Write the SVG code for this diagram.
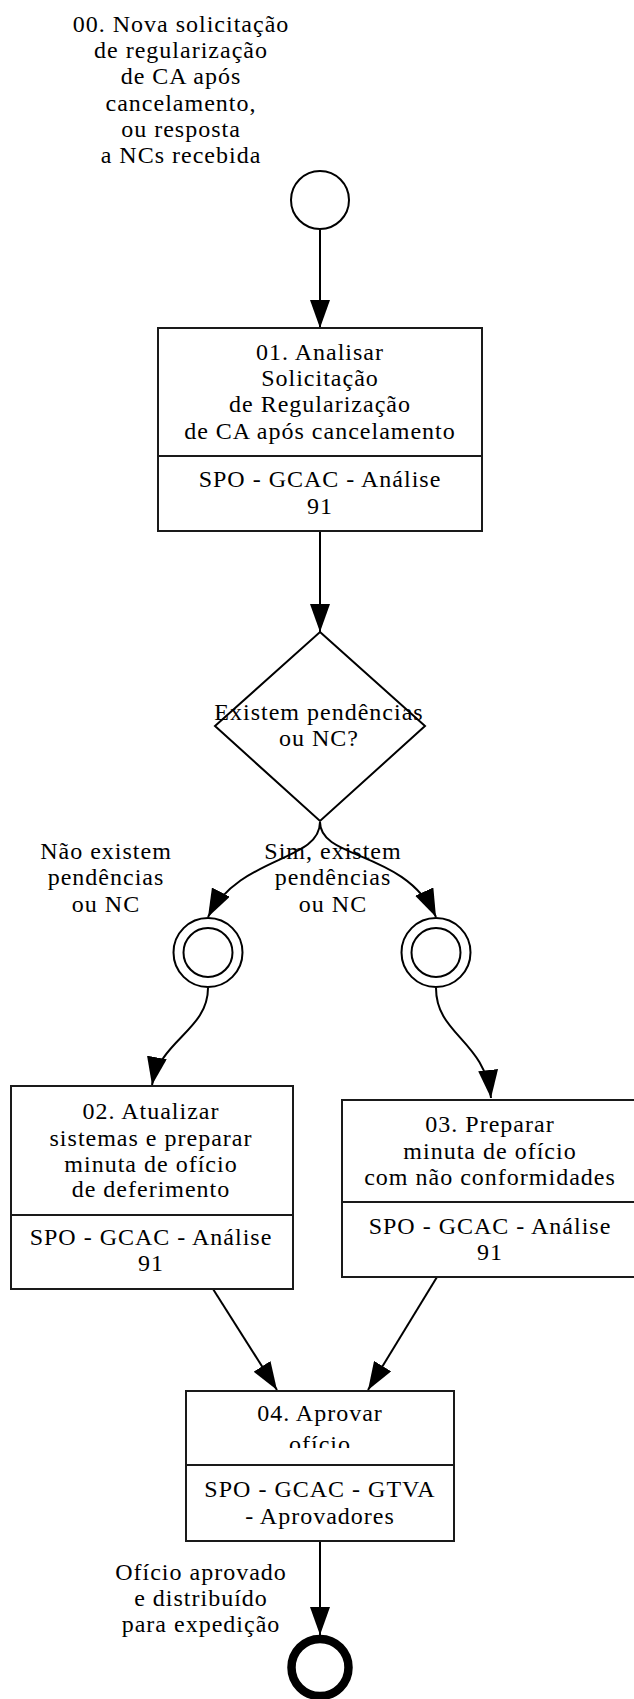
<svg xmlns="http://www.w3.org/2000/svg" width="634" height="1699" viewBox="0 0 634 1699">
<style>
text{font-family:"Liberation Serif","Times New Roman",serif;font-size:24px;letter-spacing:1px;fill:#000;text-anchor:middle}
.box{fill:#fff;stroke:#1a1a1a;stroke-width:2}
.ln{fill:none;stroke:#000;stroke-width:2}
.ev{fill:#fff;stroke:#000;stroke-width:2}
.end{fill:#fff;stroke:#000;stroke-width:8.5}
</style>
<defs>
<marker id="ah" markerWidth="28" markerHeight="20" refX="28" refY="10" orient="auto" markerUnits="userSpaceOnUse">
<path d="M0,0 L28,10 L0,20 z" fill="#000"/>
</marker>
<clipPath id="c04"><rect x="186" y="1392" width="268" height="56"/></clipPath>
</defs>
<rect width="634" height="1699" fill="#fff"/>

<g id="connectors">
<path class="ln" d="M320,230 L320,328" marker-end="url(#ah)"/>
<path class="ln" d="M320,531 L320,632" marker-end="url(#ah)"/>
<path class="ln" d="M320,822 C320,862 240,855 208,917" marker-end="url(#ah)"/>
<path class="ln" d="M320,822 C320,860 405,850 436,917" marker-end="url(#ah)"/>
<path class="ln" d="M208,988 C208,1030 160,1040 152,1085" marker-end="url(#ah)"/>
<path class="ln" d="M436,988 C436,1035 485,1040 491,1098" marker-end="url(#ah)"/>
<path class="ln" d="M213,1289 L277,1390" marker-end="url(#ah)"/>
<path class="ln" d="M437,1277 L368,1390" marker-end="url(#ah)"/>
<path class="ln" d="M320,1541 L320,1635" marker-end="url(#ah)"/>
</g>

<g id="n00">
<circle class="ev" cx="320" cy="200" r="29"/>
<text x="181" y="32">00. Nova solicitação</text>
<text x="181" y="58">de regularização</text>
<text x="181" y="84">de CA após</text>
<text x="181" y="111">cancelamento,</text>
<text x="181" y="137">ou resposta</text>
<text x="181" y="163">a NCs recebida</text>
</g>

<g id="n01">
<rect class="box" x="158" y="328" width="324" height="203"/>
<line class="box" x1="158" y1="456" x2="482" y2="456"/>
<text x="320" y="360">01. Analisar</text>
<text x="320" y="386">Solicitação</text>
<text x="320" y="412">de Regularização</text>
<text x="320" y="439">de CA após cancelamento</text>
<text x="320" y="487">SPO - GCAC - Análise</text>
<text x="320" y="514">91</text>
</g>

<g id="gw">
<polygon class="ev" points="320,632 425,726 320,821 215,726"/>
<text x="319" y="720">Existem pendências</text>
<text x="319" y="746">ou NC?</text>
</g>

<g id="lblNao">
<text x="106" y="859">Não existem</text>
<text x="106" y="885">pendências</text>
<text x="106" y="912">ou NC</text>
</g>

<g id="lblSim">
<text x="333" y="859">Sim, existem</text>
<text x="333" y="885">pendências</text>
<text x="333" y="912">ou NC</text>
</g>

<g id="ie1">
<circle class="ev" cx="208" cy="952.5" r="34.5"/>
<circle class="ev" cx="208" cy="952.5" r="24.5"/>
</g>

<g id="ie2">
<circle class="ev" cx="436" cy="952.5" r="34.5"/>
<circle class="ev" cx="436" cy="952.5" r="24.5"/>
</g>

<g id="n02">
<rect class="box" x="11" y="1086" width="282" height="203"/>
<line class="box" x1="11" y1="1215" x2="293" y2="1215"/>
<text x="151" y="1119">02. Atualizar</text>
<text x="151" y="1146">sistemas e preparar</text>
<text x="151" y="1172">minuta de ofício</text>
<text x="151" y="1197">de deferimento</text>
<text x="151" y="1245">SPO - GCAC - Análise</text>
<text x="151" y="1271">91</text>
</g>

<g id="n03">
<rect class="box" x="342" y="1100" width="296" height="177"/>
<line class="box" x1="342" y1="1202" x2="638" y2="1202"/>
<text x="490" y="1132">03. Preparar</text>
<text x="490" y="1159">minuta de ofício</text>
<text x="490" y="1185">com não conformidades</text>
<text x="490" y="1234">SPO - GCAC - Análise</text>
<text x="490" y="1260">91</text>
</g>

<g id="n04">
<rect class="box" x="186" y="1391" width="268" height="150"/>
<line class="box" x1="186" y1="1465" x2="454" y2="1465"/>
<g clip-path="url(#c04)">
<text x="320" y="1421">04. Aprovar</text>
<text x="320" y="1452">ofício</text>
</g>
<text x="320" y="1497">SPO - GCAC - GTVA</text>
<text x="320" y="1524">- Aprovadores</text>
</g>

<g id="end">
<circle class="end" cx="320" cy="1667.5" r="28.5"/>
<text x="201" y="1580">Ofício aprovado</text>
<text x="201" y="1606">e distribuído</text>
<text x="201" y="1632">para expedição</text>
</g>
</svg>
